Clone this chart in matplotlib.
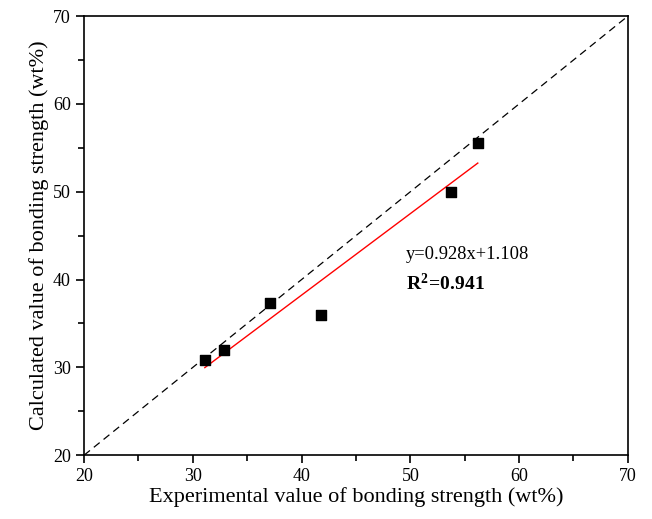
import matplotlib.pyplot as plt
from matplotlib.ticker import MultipleLocator

plt.rcParams['font.family'] = ['Liberation Serif', 'DejaVu Serif']
plt.rcParams['mathtext.fontset'] = 'custom'
plt.rcParams['mathtext.rm'] = 'Liberation Serif'
plt.rcParams['mathtext.bf'] = 'Liberation Serif:bold'

exp_vals = [31.1, 32.9, 37.1, 41.8, 53.7, 56.2]
calc_vals = [30.8, 32.0, 37.3, 36.0, 50.0, 55.5]
slope = 0.928
intercept = 1.108

fig = plt.figure(figsize=(6.52, 5.19), dpi=100)
ax = fig.add_axes([0.129, 0.123, 0.834, 0.846])

# y=x reference
ax.plot([20, 70], [20, 70], color='black', lw=0.9, dashes=(6, 4))
# fit line
fx = [min(exp_vals), max(exp_vals)]
fy = [slope * v + intercept for v in fx]
ax.plot(fx, fy, color='red', lw=1.0)
ax.scatter(exp_vals, calc_vals, marker='s', s=55, color='black', zorder=3)

ax.text(49.6, 42.8, "y=0.928x+1.108", fontsize=13.3, va='center')
ax.text(49.6, 39.6, r"$\mathbf{R^2\!=\!0.941}$", fontsize=14, va='center')

ax.set_xlim(20, 70)
ax.set_ylim(20, 70)
ax.xaxis.set_major_locator(MultipleLocator(10))
ax.yaxis.set_major_locator(MultipleLocator(10))
ax.xaxis.set_minor_locator(MultipleLocator(5))
ax.yaxis.set_minor_locator(MultipleLocator(5))
ax.tick_params(which='both', direction='out', top=False, right=False, labelsize=13, width=1.2)
ax.tick_params(which='major', length=6)
ax.tick_params(which='minor', length=4)
for s in ax.spines.values():
    s.set_linewidth(1.2)

ax.set_xlabel("Experimental value of bonding strength (wt%)", fontsize=16, labelpad=1)
ax.set_ylabel("Calculated value of bonding strength (wt%)", fontsize=16, labelpad=3)

fig.savefig("out.png", dpi=100)
